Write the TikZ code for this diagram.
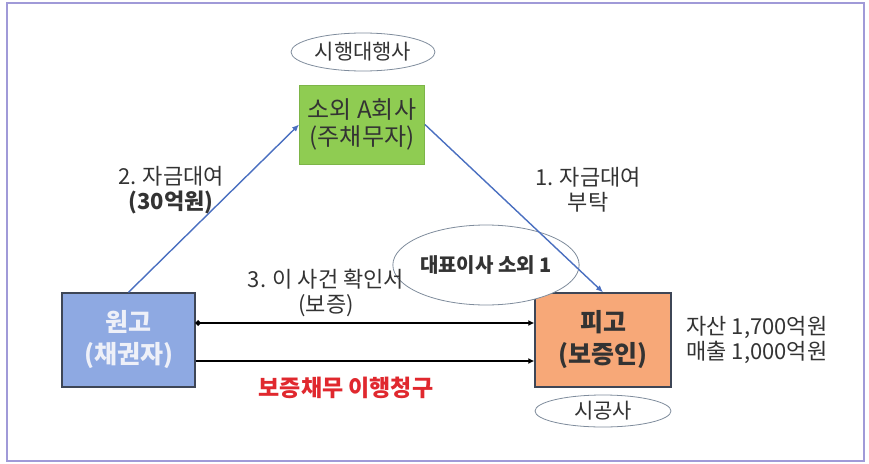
\documentclass[tikz,border=0pt]{standalone}
\usepackage{fontspec}
\setmainfont{Noto Sans CJK KR}
\usetikzlibrary{arrows.meta,shapes.geometric}
\definecolor{framec}{HTML}{A09AD8}
\definecolor{greenf}{HTML}{8FCC52}
\definecolor{greend}{HTML}{7DB548}
\definecolor{bluef}{HTML}{8EA9E2}
\definecolor{boxd}{HTML}{3E4656}
\definecolor{orangef}{HTML}{F7A878}
\definecolor{arrowb}{HTML}{4A6FC0}
\definecolor{ellc}{HTML}{7F8C9C}
\definecolor{txt}{HTML}{333333}
\definecolor{redt}{HTML}{E0282E}
\definecolor{whitet}{HTML}{EEF0F8}
\tikzset{
  boxbase/.style={rectangle, inner sep=0pt, align=center},
  ovalbox/.style={ellipse, draw=ellc, line width=0.8pt, fill=white, inner sep=0pt, align=center, text=txt},
  lbl/.style={align=center, text=txt, font=\fontsize{22}{25}\selectfont},
  bluearrow/.style={draw=arrowb, line width=1.4pt, -{Latex[length=7pt,width=6pt]}},
  blackarrow/.style={draw=black, line width=2.6pt, -{Latex[length=6pt,width=6pt]}}
}
\begin{document}
\begin{tikzpicture}[x=1pt,y=-1pt]
\useasboundingbox (0,0) rectangle (869,463);
\draw[framec, line width=1.2pt] (7,3) rectangle (864,461);

\node[ovalbox, minimum width=144pt, minimum height=38pt, font=\fontsize{21}{22}\selectfont] (shihaeng) at (363,52) {시행대행사};
\node[boxbase, fill=greenf, draw=greend, line width=0.8pt, minimum width=125pt, minimum height=79pt, text=txt, font=\fontsize{24}{27}\selectfont] (jucheo) at (362,124.5) {소외 A회사\\(주채무자)};
\node[boxbase, fill=bluef, draw=boxd, line width=1.4pt, minimum width=133pt, minimum height=94pt, text=whitet, font=\bfseries\fontsize{25}{32}\selectfont] (wongo) at (128.5,340) {원고\\(채권자)};
\node[boxbase, fill=orangef, draw=boxd, line width=1.4pt, minimum width=136pt, minimum height=94pt, text=txt, font=\bfseries\fontsize{25}{32}\selectfont] (pigo) at (603,340) {피고\\(보증인)};
\node[ovalbox, minimum width=142pt, minimum height=80pt, font=\bfseries\fontsize{20}{22}\selectfont] (daepyo) at (486,265) {대표이사 소외 1};
\node[ovalbox, minimum width=136pt, minimum height=32pt, font=\fontsize{21}{22}\selectfont] (sigong) at (603,411) {시공사};

\draw[bluearrow] (wongo.north) -- (jucheo.west);
\draw[bluearrow] (jucheo.east) -- (pigo.north);
\draw[blackarrow, {Circle[length=5pt]}-{Latex[length=6pt,width=6pt]}] ([yshift=17pt]wongo.east) -- ([yshift=17pt]pigo.west);
\draw[blackarrow] ([yshift=-21pt]wongo.east) -- ([yshift=-21pt]pigo.west);

\node[lbl] (l2) at (171,190) {2. 자금대여\\{\bfseries (30억원)}};
\node[lbl] (l1) at (588,190) {1. 자금대여\\부탁};
\node[lbl] (l3) at (326,293) {3. 이 사건 확인서\\(보증)};
\node[lbl, text=redt, font=\bfseries\fontsize{23}{25}\selectfont] (req) at (346,388) {보증채무 이행청구};
\node[lbl, align=left] (asset) at (757,340) {자산 1,700억원\\매출 1,000억원};
\end{tikzpicture}
\end{document}
